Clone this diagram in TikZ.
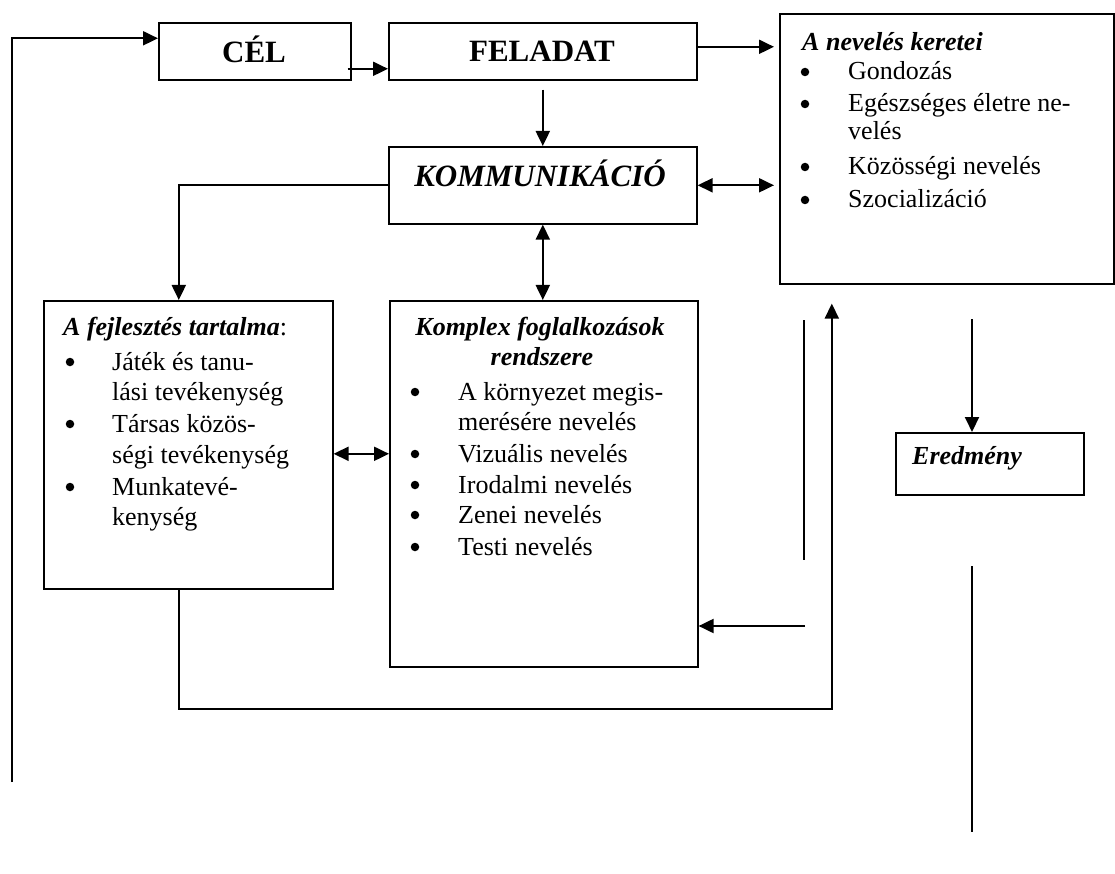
\documentclass[tikz,border=0pt]{standalone}
\usepackage{fontspec}
\setmainfont{Liberation Serif}
\usetikzlibrary{arrows.meta}
\begin{document}
\begin{tikzpicture}[x=1pt,y=-1pt,
  box/.style={draw,line width=1.6pt,rectangle,inner sep=0pt,anchor=north west},
  conn/.style={line width=2pt},
  arr/.style={conn,-{Triangle[length=15pt,width=14pt]}},
  dbl/.style={conn,{Triangle[length=15pt,width=14pt]}-{Triangle[length=15pt,width=14pt]}},
  plain/.style={line width=1.3pt},
  big/.style={font=\fontsize{31}{36}\selectfont\bfseries,inner sep=0pt,anchor=base},
  txt/.style={font=\fontsize{26}{30}\selectfont,inner sep=0pt,anchor=base west},
  bul/.style={circle,fill=black,inner sep=0pt,minimum size=8.5pt},
  hdr/.style={font=\fontsize{26}{30}\selectfont\bfseries\itshape,inner sep=0pt,anchor=base west}]
\useasboundingbox (0,0) rectangle (1115,874);
% boxes
\node[box,minimum width=192pt,minimum height=57pt] (cel) at (158,22) {};
\node[box,minimum width=308pt,minimum height=57pt] (fel) at (388,22) {};
\node[box,minimum width=308pt,minimum height=77pt] (kom) at (388,146) {};
\node[box,minimum width=334pt,minimum height=270pt] (ker) at (779,13) {};
\node[box,minimum width=289pt,minimum height=288pt] (fej) at (43,300) {};
\node[box,minimum width=308pt,minimum height=366pt] (kpx) at (389,300) {};
\node[box,minimum width=188pt,minimum height=62pt] (ere) at (895,432) {};
% titles
\node[big] (celt) at (254,63) {CÉL};
\node[big] (felt) at (542,62) {FELADAT};
\node[big,font=\fontsize{31}{36}\selectfont\bfseries\itshape] (komt) at (540,187) {KOMMUNIKÁCIÓ};
\node[hdr] (eret) at (912,464) {Eredmény};
% right box text
\node[hdr] (kerh) at (802,51) {A nevelés keretei};
\node[bul] (kb1) at (805,72) {};
\node[txt] (k1) at (848,80) {Gondozás};
\node[bul] (kb2) at (805,104) {};
\node[txt] (k2) at (848,112) {Egészséges életre ne-};
\node[txt] (k2b) at (848,140) {velés};
\node[bul] (kb3) at (805,167) {};
\node[txt] (k3) at (848,175) {Közösségi nevelés};
\node[bul] (kb4) at (805,200) {};
\node[txt] (k4) at (848,208) {Szocializáció};
% left box text
\node[hdr] (fejh) at (63,335) {A fejlesztés tartalma\textup{\mdseries:}};
\node[bul] (fb1) at (70,362) {};
\node[txt] (f1) at (112,370) {Játék és tanu-};
\node[txt] (f1b) at (112,400) {lási tevékenység};
\node[bul] (fb2) at (70,424) {};
\node[txt] (f2) at (112,432) {Társas közös-};
\node[txt] (f2b) at (112,463) {ségi tevékenység};
\node[bul] (fb3) at (70,487) {};
\node[txt] (f3) at (112,495) {Munkatevé-};
\node[txt] (f3b) at (112,525) {kenység};
% middle box text
\node[hdr,anchor=base] (kph1) at (540,335) {Komplex foglalkozások};
\node[hdr,anchor=base] (kph2) at (542,365) {rendszere};
\node[bul] (pb1) at (415,392) {};
\node[txt] (p1) at (458,400) {A környezet megis-};
\node[txt] (p1b) at (458,430) {merésére nevelés};
\node[bul] (pb2) at (415,454) {};
\node[txt] (p2) at (458,462) {Vizuális nevelés};
\node[bul] (pb3) at (415,485) {};
\node[txt] (p3) at (458,493) {Irodalmi nevelés};
\node[bul] (pb4) at (415,515) {};
\node[txt] (p4) at (458,523) {Zenei nevelés};
\node[bul] (pb5) at (415,547) {};
\node[txt] (p5) at (458,555) {Testi nevelés};
% free coordinates
\coordinate (l1) at (12,782);
\coordinate (t1) at (804,320);
\coordinate (t2) at (804,560);
\coordinate (a1) at (805,626);
\coordinate (e1) at (972,319);
\coordinate (r1) at (972,566);
\coordinate (r2) at (972,832);
% connectors
\draw[arr] (l1) |- ([yshift=13pt]cel.west);
\draw[arr] ([xshift=-4pt,yshift=-17.5pt]cel.east) -- ([yshift=-17.5pt]fel.west);
\draw[arr] ([yshift=4.5pt]fel.east) -- ([yshift=4.5pt,xshift=-5pt]fel.east -| ker.west);
\draw[arr] ([yshift=-9pt]fel.south) -- (kom.north);
\draw[dbl] (kom.east) -- ([xshift=-5pt]kom.east -| ker.west);
\draw[arr] (kom.west) -| ([xshift=-9.5pt]fej.north);
\draw[dbl] (kom.south) -- (kom.south |- kpx.north);
\draw[dbl] ([yshift=-9pt]fej.east) -- ([yshift=-9pt]fej.east -| kpx.west);
\draw[arr] ([xshift=-9.5pt]fej.south) -- ++(0,119) -| ([xshift=-115pt,yshift=-19pt]ker.south);
\draw[plain] (t1) -- (t2);
\draw[arr] (a1) -- (a1 -| kpx.east);
\draw[arr] (e1) -- (e1 |- ere.north);
\draw[plain] (r1) -- (r2);
\end{tikzpicture}
\end{document}
